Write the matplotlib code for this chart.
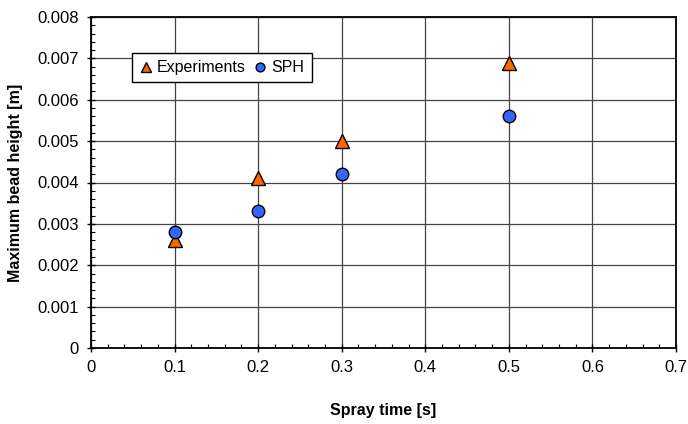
import matplotlib
matplotlib.use('Agg')
import matplotlib.pyplot as plt
from matplotlib.ticker import MultipleLocator, FuncFormatter

plt.rcParams['font.family'] = ['Liberation Sans', 'DejaVu Sans']

# spray time vs max bead height
t_exp = [0.1, 0.2, 0.3, 0.5]
h_exp = [0.0026, 0.0041, 0.0050, 0.0069]
t_sph = [0.1, 0.2, 0.3, 0.5]
h_sph = [0.0028, 0.0033, 0.0042, 0.0056]

fig = plt.figure(figsize=(6.88, 4.24), dpi=100)
ax = fig.add_axes([91/688, 1-348/424, (676-91)/688, (348-17)/424])

ax.plot(t_exp, h_exp, '^', color='#FF6600', markeredgecolor='black',
        markeredgewidth=1, markersize=9.5, label='Experiments', zorder=3)
ax.plot(t_sph, h_sph, 'o', color='#3366FF', markeredgecolor='black',
        markeredgewidth=1, markersize=9, label='SPH', zorder=3)

ax.set_xlim(0, 0.7)
ax.set_ylim(0, 0.008)
ax.xaxis.set_major_locator(MultipleLocator(0.1))
ax.xaxis.set_minor_locator(MultipleLocator(0.02))
ax.yaxis.set_major_locator(MultipleLocator(0.001))
ax.yaxis.set_minor_locator(MultipleLocator(0.0002))
ax.xaxis.set_major_formatter(FuncFormatter(lambda v, p: '0' if abs(v) < 1e-9 else f'{v:.1f}'))
ax.yaxis.set_major_formatter(FuncFormatter(lambda v, p: '0' if abs(v) < 1e-9 else f'{v:.3f}'))
ax.tick_params(which='major', direction='inout', length=6, width=1, labelsize=12, pad=6)
ax.tick_params(which='minor', direction='in', length=3, width=0.8)
ax.grid(True, which='major', color='#444444', linewidth=0.9)

for s in ax.spines.values():
    s.set_linewidth(1.3)

ax.set_xlabel('Spray time [s]', fontsize=11.5, fontweight='bold', labelpad=20)
ax.set_ylabel('Maximum bead height [m]', fontsize=11.5, fontweight='bold', labelpad=10)

leg = ax.legend(loc='upper left', bbox_to_anchor=(0.057, 0.915), ncol=2, fontsize=11.5,
                frameon=True, fancybox=False, edgecolor='black', framealpha=1,
                handletextpad=0.3, columnspacing=0.5, borderpad=0.45, handlelength=0.8,
                markerscale=0.7)
leg.get_frame().set_linewidth(1)

plt.savefig('out.png', dpi=100)
